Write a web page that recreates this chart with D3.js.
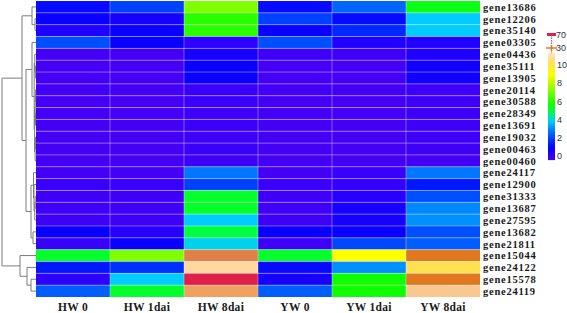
<!DOCTYPE html>
<html><head><meta charset="utf-8">
<script src="https://cdn.jsdelivr.net/npm/d3@7"></script>
<style>body{margin:0;background:#fff}svg{display:block}</style></head><body>
<svg id="c" width="567" height="313"></svg>
<script>
const samples = ["HW 0","HW 1dai","HW 8dai","YW 0","YW 1dai","YW 8dai"];
const genes = ["gene13686","gene12206","gene35140","gene03305","gene04436","gene35111","gene13905",
  "gene20114","gene30588","gene28349","gene13691","gene19032","gene00463","gene00460",
  "gene24117","gene12900","gene31333","gene13687","gene27595","gene13682","gene21811",
  "gene15044","gene24122","gene15578","gene24119"];
const values = [
  [1.2, 2.0, 6.5, 1.2, 2.5, 5.0],
  [1.0, 0.8, 5.5, 2.0, 1.2, 3.6],
  [0.7, 1.0, 5.5, 1.0, 1.7, 3.6],
  [2.2, 1.0, 0.5, 2.2, 0.7, 0.7],
  [0.1, 0.1, 0.8, 0.2, 0.2, 0.7],
  [0.1, 0.1, 1.0, 0.1, 0.1, 0.9],
  [0.1, 0.1, 1.0, 0.1, 0.1, 0.9],
  [0.15, 0.15, 0.3, 0.15, 0.15, 0.2],
  [0.1, 0.1, 0.3, 0.1, 0.1, 0.2],
  [0.1, 0.1, 0.2, 0.1, 0.1, 0.2],
  [0.1, 0.1, 0.3, 0.1, 0.1, 0.2],
  [0.1, 0.1, 0.2, 0.1, 0.1, 0.2],
  [0.1, 0.1, 0.3, 0.1, 0.1, 0.2],
  [0.1, 0.1, 0.2, 0.1, 0.1, 0.1],
  [0.1, 0.1, 2.7, 0.1, 0.3, 2.7],
  [0.3, 0.3, 2.0, 0.3, 0.4, 1.5],
  [0.2, 0.2, 4.8, 0.2, 0.6, 2.2],
  [0.2, 0.2, 4.8, 0.2, 0.8, 2.9],
  [0.2, 0.2, 3.6, 0.2, 0.8, 3.0],
  [1.0, 0.6, 4.6, 1.0, 1.0, 2.2],
  [0.3, 1.0, 3.7, 0.2, 2.1, 2.4],
  [4.8, 6.5, 40, 4.8, 8.0, 30],
  [1.5, 1.8, 12, 1.2, 3.0, 9.0],
  [0.5, 3.6, 70, 0.8, 5.2, 30],
  [2.4, 4.8, 20, 2.4, 5.2, 14]
];
const legendTicks = [0, 2, 4, 6, 8, 10];
const legendOutliers = [30, 70];
const colorStops = [0, 0.5, 1, 1.5, 2, 2.5, 3, 3.6, 4.6, 5.2, 6.5, 8, 9, 10, 12, 14, 20, 30, 40, 70];
const colorRange = ["#4a00f2","#2e00ff","#0a00ff","#0018ff","#0040ff","#0066ff","#0090ff","#00ccff",
  "#00ff40","#10ff00","#80ff00","#ffff00","#ffe050","#ffe4b8","#ffd8a0","#f8c890","#f0a060",
  "#e07820","#e08048","#e0204a"];
// dendrogram: [height, left, right], leaves are gene names
const dendrogram = [34,
  [14,
    [4, "gene13686", [1, "gene12206", "gene35140"]],
    [10,
      [4, "gene03305",
        [1.8,
          [1.2, "gene04436", [0.6, "gene35111", "gene13905"]],
          [1.4,
            [0.8, [0.4, "gene20114", "gene30588"], [0.5, "gene28349", "gene13691"]],
            [0.9, [0.5, "gene19032", "gene00463"], "gene00460"]]]],
      [5,
        [2.5, "gene24117", [2, "gene12900", [1.2, [0.8, "gene31333", "gene13687"], "gene27595"]]],
        [3, "gene13682", "gene21811"]]]],
  [16, "gene15044", [9, "gene24122", [5, "gene15578", "gene24119"]]]];

const svg = d3.select("#c");
const x = d3.scaleBand().domain(samples).range([36, 480]);
const y = d3.scaleBand().domain(genes).range([1, 297]);
const color = d3.scaleLinear().domain(colorStops).range(colorRange).clamp(true);

// cells
const cells = [];
values.forEach((row, i) => row.forEach((v, j) => cells.push({g: genes[i], s: samples[j], v})));
svg.append("g").selectAll("rect").data(cells).join("rect")
  .attr("x", d => x(d.s)).attr("y", d => y(d.g))
  .attr("width", x.bandwidth()).attr("height", y.bandwidth())
  .attr("fill", d => color(d.v));
// grid lines
const grid = svg.append("g").attr("stroke", "#fff").attr("stroke-opacity", 0.35).attr("stroke-width", 1);
genes.slice(1).forEach(g => grid.append("line").attr("x1", 36).attr("x2", 480).attr("y1", y(g)).attr("y2", y(g)));
samples.slice(1).forEach(s => grid.append("line").attr("y1", 1).attr("y2", 297).attr("x1", x(s)).attr("x2", x(s)));

// dendrogram
const hx = d3.scaleLinear().domain([0, 34]).range([36, 2]);
const dg = svg.append("g").attr("stroke", "#7d7d7d").attr("stroke-width", 1).attr("fill", "none");
function layout(node) {
  if (typeof node === "string") return {x: hx(0), y: y(node) + y.bandwidth() / 2};
  const a = layout(node[1]), b = layout(node[2]);
  const nx = hx(node[0]);
  dg.append("path").attr("d", `M${a.x},${a.y}H${nx}V${b.y}H${b.x}`);
  return {x: nx, y: (a.y + b.y) / 2};
}
layout(dendrogram);

// gene labels
svg.append("g").selectAll("text").data(genes).join("text")
  .attr("x", 483).attr("y", d => y(d) + y.bandwidth() / 2 + 3.8)
  .attr("font-family", "Liberation Serif, Times New Roman, serif").attr("font-weight", "bold")
  .attr("font-size", 10.5).attr("letter-spacing", 0.75).attr("fill", "#1a1a1a").text(d => d);
// sample labels
svg.append("g").selectAll("text").data(samples).join("text")
  .attr("x", d => x(d) + x.bandwidth() / 2).attr("y", 310.5).attr("text-anchor", "middle")
  .attr("font-family", "Liberation Serif, Times New Roman, serif").attr("font-weight", "bold")
  .attr("font-size", 11.5).attr("letter-spacing", 0.3).attr("fill", "#1a1a1a").text(d => d);

// legend
const ly = d3.scaleLinear().domain([0, 10]).range([156, 65]);
const defs = svg.append("defs");
const grad = defs.append("linearGradient").attr("id", "lg").attr("x1", 0).attr("x2", 0).attr("y1", 1).attr("y2", 0);
d3.range(0, 10.01, 0.25).forEach(v => grad.append("stop").attr("offset", v / 10).attr("stop-color", color(v)));
svg.append("rect").attr("x", 548).attr("y", ly(11.3)).attr("width", 7).attr("height", ly(-0.45) - ly(11.3))
  .attr("fill", "url(#lg)");
const oy = d3.scaleLinear().domain(legendOutliers).range([48, 35]);
svg.append("line").attr("x1", 551.5).attr("x2", 551.5).attr("y1", oy(70)).attr("y2", ly(11.3))
  .attr("stroke", "#777").attr("stroke-width", 1.2).attr("stroke-dasharray", "1.5,1");
svg.append("rect").attr("x", 547).attr("y", oy(70) - 2).attr("width", 9).attr("height", 3).attr("fill", color(70));
svg.append("line").attr("x1", 546).attr("x2", 557).attr("y1", oy(30)).attr("y2", oy(30))
  .attr("stroke", color(30)).attr("stroke-width", 1.5);
svg.append("line").attr("x1", 551.5).attr("x2", 551.5).attr("y1", oy(30) - 3).attr("y2", oy(30) + 3)
  .attr("stroke", color(30)).attr("stroke-width", 1.5);
const lt = svg.append("g").attr("font-family", "Liberation Sans, Arial, sans-serif").attr("font-size", 9).attr("fill", "#333");
legendTicks.forEach(t => lt.append("text").attr("x", 557).attr("y", ly(t) + 3.2).text(t));
legendOutliers.forEach(t => lt.append("text").attr("x", 556).attr("y", oy(t) + 3.2).text(t));
</script></body></html>
